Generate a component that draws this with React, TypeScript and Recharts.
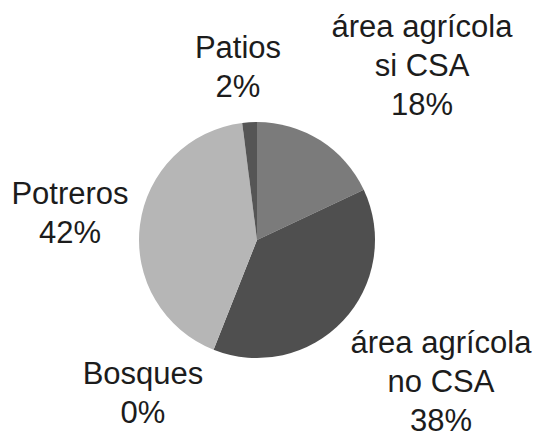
import React from "react";
import { PieChart, Pie, Cell } from "recharts";

const categories = ["área agrícola\nsi CSA", "área agrícola\nno CSA", "Bosques", "Potreros", "Patios"];
const values = [18, 38, 0, 42, 2];
const pctLabels = ["18%", "38%", "0%", "42%", "2%"];

const colors = ["#7b7b7b", "#4f4f4f", "#3a3a3a", "#b6b6b6", "#555555"];
// label block centers relative to pie center (layout only)
const labelOffsets = [
  [165, -175],
  [184, 141],
  [-114, 152],
  [-187, -28],
  [-19, -174],
];

const data = categories.map((c, i) => ({ name: c, value: values[i], pct: pctLabels[i] }));

const LINE = 39;

const renderLabel = (props: any) => {
  const { cx, cy, index } = props;
  const [dx, dy] = labelOffsets[index];
  const lines = [...categories[index].split("\n"), pctLabels[index]];
  const n = lines.length;
  const x = cx + dx;
  const top = cy + dy - ((n - 1) * LINE) / 2;
  return (
    <text
      key={`lbl-${index}`}
      x={x}
      y={top}
      textAnchor="middle"
      dominantBaseline="central"
      fontFamily="'Liberation Sans', Arial, sans-serif"
      fontSize={31}
      fill="#1c1c1c"
    >
      {lines.map((l, i) => (
        <tspan key={i} x={x} y={top + i * LINE} dominantBaseline="central">
          {l}
        </tspan>
      ))}
    </text>
  );
};

export default function App() {
  return (
    <div style={{ position: "absolute", left: 0, top: 0, width: 537, height: 435, background: "#ffffff" }}>
      <PieChart width={537} height={435} margin={{ top: 0, right: 0, bottom: 0, left: 0 }}>
        <Pie
          data={data}
          dataKey="value"
          nameKey="name"
          cx={257}
          cy={240}
          outerRadius={118}
          startAngle={90}
          endAngle={-270}
          stroke="none"
          label={renderLabel}
          labelLine={false}
          isAnimationActive={false}
        >
          {data.map((d, i) => (
            <Cell key={i} fill={colors[i]} />
          ))}
        </Pie>
      </PieChart>
    </div>
  );
}
